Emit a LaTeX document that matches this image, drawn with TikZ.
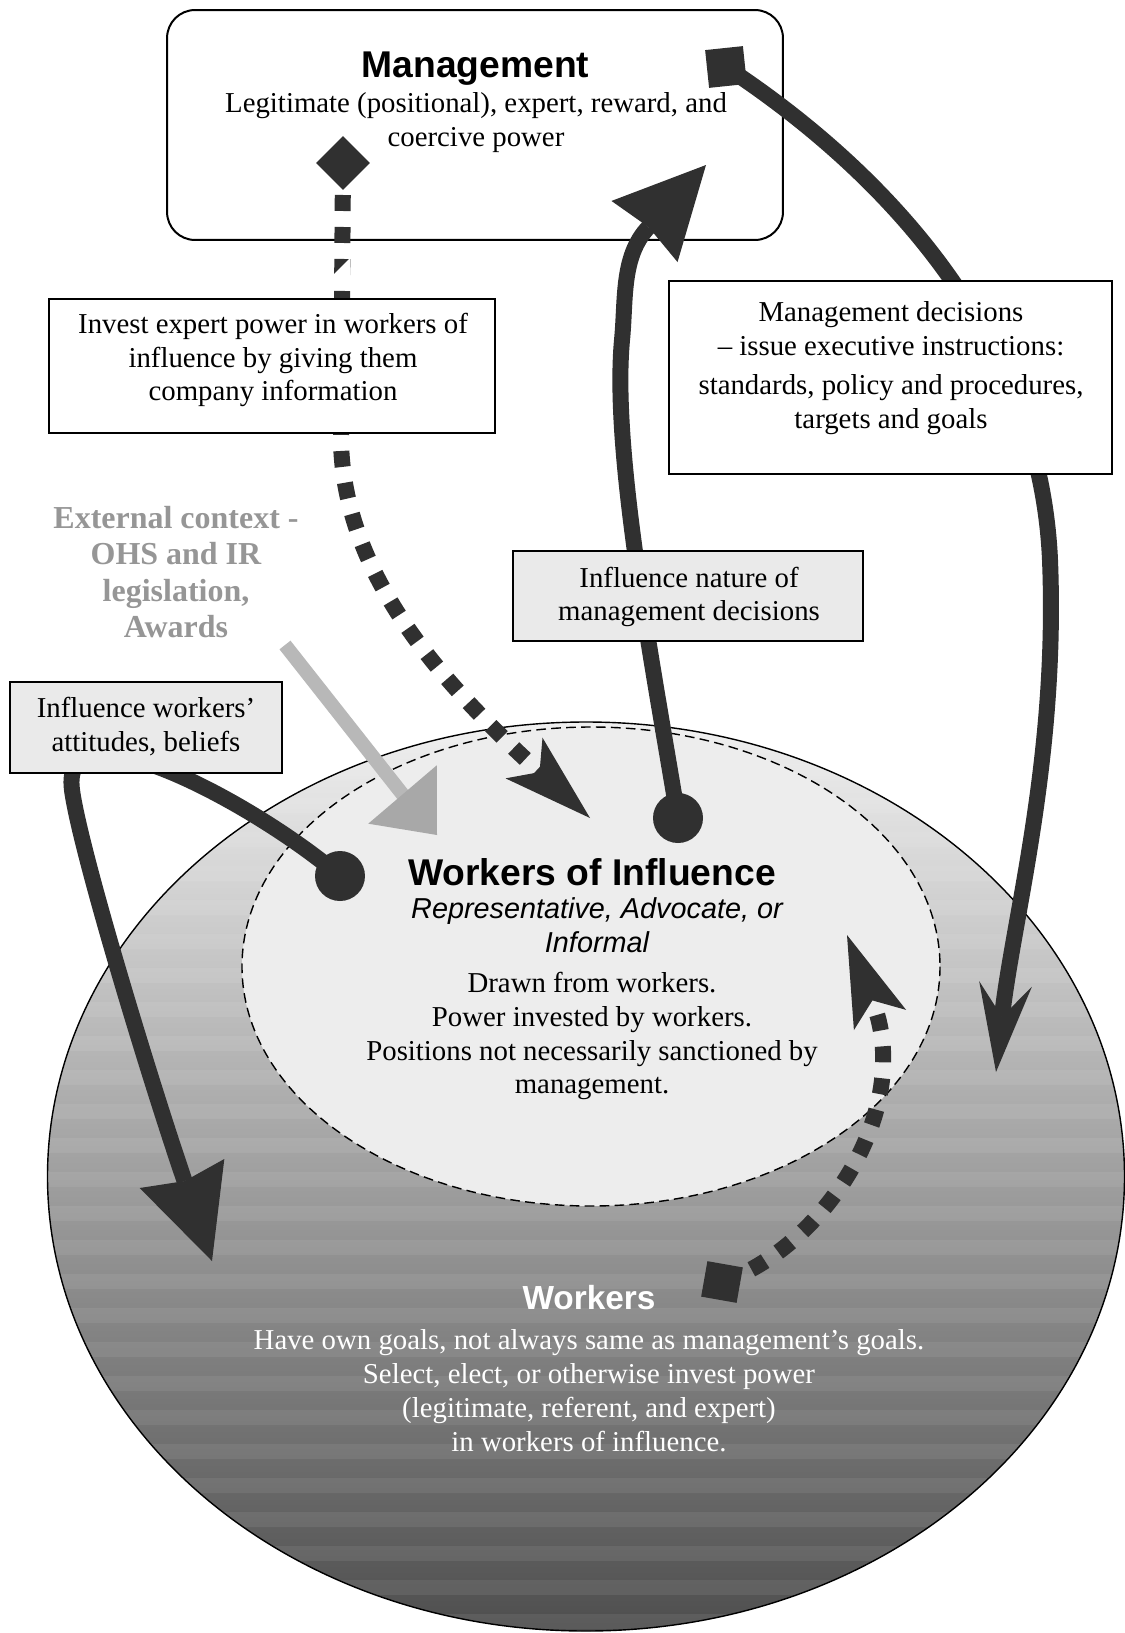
\documentclass[tikz,border=0pt]{standalone}
\usepackage{fontspec}
\setmainfont{Liberation Serif}
\newfontfamily\headsans{Liberation Sans}
\usetikzlibrary{calc}
\pgfdeclarelayer{bg}
\pgfdeclarelayer{wires}
\pgfsetlayers{bg,wires,main}

\definecolor{ink}{RGB}{48,48,48}
\definecolor{boxgray}{RGB}{234,234,234}
\definecolor{innerfill}{RGB}{237,237,237}
\definecolor{ctxgray}{RGB}{150,150,150}
\definecolor{shaftgray}{RGB}{184,184,184}
\definecolor{headgray}{RGB}{168,168,168}
\definecolor{wtop}{RGB}{240,240,240}
\definecolor{wmid}{RGB}{165,165,165}
\definecolor{wbot}{RGB}{78,78,78}

\newcommand\bodyfont{\fontsize{16.4}{19.3}\selectfont}
\newcommand\titlefont{\headsans\bfseries\fontsize{21.2}{25}\selectfont}
\newcommand\subfont{\headsans\itshape\fontsize{16.4}{19.6}\selectfont}
\newcommand\ctxfont{\bfseries\fontsize{18.2}{20.7}\selectfont}
\newcommand\wkfont{\headsans\bfseries\fontsize{19}{22}\selectfont}

% filled arrow head: tip, back-middle, half width, notch depth, colour
\newcommand\drawhead[5]{%
  \fill[#5] (#1) -- ($(#2)!#3!90:(#1)$) -- ($(#2)!#4!(#1)$) -- ($(#2)!#3!-90:(#1)$) -- cycle;}

\tikzset{
  lbl/.style={align=center, inner sep=0pt},
  box/.style={draw=black, line width=0.04cm, inner sep=0pt},
  plainbox/.style={box, fill=white},
  greybox/.style={box, fill=boxgray},
  thickline/.style={draw=ink, line width=0.32cm},
  squaredots/.style={draw=ink, line width=0.32cm, dash pattern=on 0.32cm off 0.32cm},
  blob/.style={circle, fill=ink, inner sep=0pt, minimum size=1cm},
  sqmark/.style={fill=ink, inner sep=0pt, minimum size=#1},
}

\begin{document}
\begin{tikzpicture}[x=0.02cm, y=-0.02cm]
\useasboundingbox (0,0) rectangle (1125,1633);

% arrow head geometry (tip, back middle, notch)
\coordinate (h1t) at (706,165);   \coordinate (h1b) at (644.5,231.5);
\coordinate (h2t) at (996,1072);  \coordinate (h2b) at (1005.5,984);
\coordinate (h3t) at (590,818);   \coordinate (h3b) at (524,758);
\coordinate (h4t) at (847,935);   \coordinate (h4b) at (880,1020);
\coordinate (h5t) at (212,1261);  \coordinate (h5b) at (182,1173.5);
\coordinate (h6t) at (437,835);   \coordinate (h6b) at (402.5,794.5);
\coordinate (h1n) at ($(h1b)!0.12cm!(h1t)$);
\coordinate (h2n) at ($(h2b)!0.66cm!(h2t)$);
\coordinate (h3n) at ($(h3b)!0.42cm!(h3t)$);
\coordinate (h4n) at ($(h4b)!0.42cm!(h4t)$);
\coordinate (h5n) at ($(h5b)!0.16cm!(h5t)$);
\coordinate (h6n) at ($(h6b)!0.08cm!(h6t)$);
\coordinate (ctxstart) at (285,645);

% ---------- background: workers, workers of influence, management ----------
\begin{pgfonlayer}{bg}
  \fill[white] (0,0) rectangle (1125,1633);
  \path[top color=wtop, middle color=wmid, bottom color=wbot]
    (586,1176.5) ellipse [x radius=538.5, y radius=454.5];
  % faint horizontal banding of the workers area
  \begin{scope}
    \clip (586,1176.5) ellipse [x radius=538.5, y radius=454.5];
    \foreach \yy in {730,764,...,1630}
      \fill[white, opacity=0.07] (40,\yy) rectangle (1130,\yy+15);
  \end{scope}
  \draw[black, line width=0.8pt] (586,1176.5) ellipse [x radius=538.5, y radius=454.5];
  \path[draw=black, line width=0.8pt, dash pattern=on 5.5pt off 3pt, fill=innerfill]
    (591,966.5) ellipse [x radius=349, y radius=239.5];
  \node[plainbox, rounded corners=0.56cm, minimum width=12.32cm, minimum height=4.6cm] (mgmt) at (475,125) {};
  \node[lbl, font=\titlefont] at (475.5,69) {Management};
  \node[lbl, font=\bodyfont] at (476,123) {Legitimate (positional), expert, reward, and\\coercive power};
\end{pgfonlayer}

% ---------- end markers ----------
\node[sqmark=0.76cm, rotate=45] (dia) at (343,163) {};
\node[sqmark=0.76cm, rotate=6] (mdsq) at (726,67) {};
\node[sqmark=0.72cm, rotate=-10] (wsq) at (722,1282) {};
\node[blob] (c1) at (678,818) {};
\node[blob] (c2) at (340,876) {};

% ---------- boxes ----------
\node[plainbox, minimum width=8.92cm, minimum height=2.68cm] (invest) at (272,366) {};
\node[lbl, font=\bodyfont] at (273,360) {Invest expert power in workers of\\influence by giving them\\company information};

\node[plainbox, minimum width=8.86cm, minimum height=3.86cm] (mdec) at (890.5,377.5) {};
\node[lbl, font=\bodyfont] at (891,368) {Management decisions\\-- issue executive instructions:\\[3pt]standards, policy and procedures,\\targets and goals};

\node[greybox, minimum width=7cm, minimum height=1.8cm] (nature) at (688,596) {};
\node[lbl, font=\bodyfont] at (689,597) {Influence nature of\\management decisions};

\node[greybox, minimum width=5.44cm, minimum height=1.82cm] (attit) at (146,727.5) {};
\node[lbl, font=\bodyfont] at (146,727) {Influence workers'\\attitudes, beliefs};

\node[lbl, font=\ctxfont, text=ctxgray] (ctx) at (176,572) {External context -\\OHS and IR\\legislation,\\Awards};

% ---------- texts in the ellipses ----------
\node[lbl, font=\titlefont] at (592,872) {Workers of Influence};
\node[lbl, font=\subfont] at (597,925) {Representative, Advocate, or\\Informal};
\node[lbl, font=\bodyfont] at (592,1036) {Drawn from workers.\\Power invested by workers.\\Positions not necessarily sanctioned by\\management.};

\node[lbl, font=\wkfont, text=white] at (589,1298) {Workers};
\node[lbl, font=\bodyfont, text=white] at (589,1391) {Have own goals, not always same as management's goals.\\Select, elect, or otherwise invest power\\(legitimate, referent, and expert)\\in workers of influence.};

% ---------- connectors ----------
\begin{pgfonlayer}{wires}
  % external context
  \draw[line width=0.28cm, draw=shaftgray] (ctxstart) -- (h6n);
  \drawhead{h6t}{h6b}{0.9cm}{0cm}{headgray}
  % expert power invested in workers of influence
  \draw[squaredots] (dia.center) -- (341,440) .. controls (343,580) and (451,691) .. (h3n);
  \fill[white] (350,258) -- (350,276) -- (332,276) -- cycle;
  \drawhead{h3t}{h3b}{0.55cm}{0.42cm}{ink}
  % influence on management decisions
  \draw[thickline] (c1.center) .. controls (650,650) and (612,450) .. (622,340)
    .. controls (626,300) and (621,256) .. (h1n);
  \drawhead{h1t}{h1b}{0.9cm}{0.12cm}{ink}
  % executive instructions
  \draw[thickline] (mdsq.center) .. controls (875,165) and (1040,330) .. (1050,560)
    .. controls (1058,760) and (1013,918) .. (h2n);
  \drawhead{h2t}{h2b}{0.53cm}{0.66cm}{ink}
  % attitudes and beliefs
  \draw[thickline] (c2.center) .. controls (250,800) and (60,700) .. (72,790)
    .. controls (80,850) and (150,1080) .. (h5n);
  \drawhead{h5t}{h5b}{0.895cm}{0.16cm}{ink}
  % workers invest power
  \draw[squaredots] (wsq.center) .. controls (820,1250) and (916,1112) .. (h4n);
  \drawhead{h4t}{h4b}{0.56cm}{0.42cm}{ink}
\end{pgfonlayer}
\end{tikzpicture}
\end{document}
